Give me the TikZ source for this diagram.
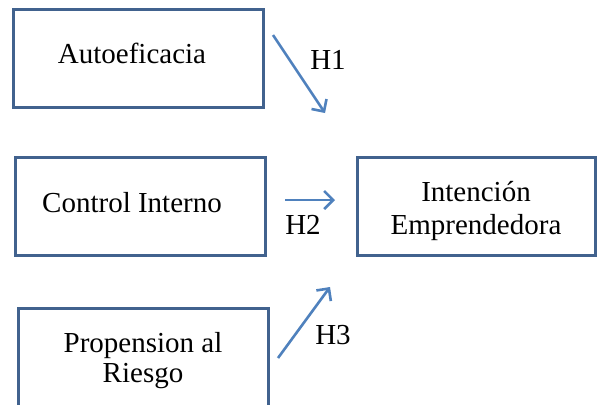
\documentclass[tikz,border=0pt]{standalone}
\usepackage{fontspec}
\setmainfont{Liberation Serif}
\usetikzlibrary{arrows.meta}
\definecolor{boxblue}{HTML}{41628E}
\definecolor{arrblue}{HTML}{4F81BD}
\tikzset{
  varbox/.style={draw=boxblue, line width=1.5pt, fill=white, minimum width=125pt, minimum height=49pt,
    inner sep=0pt, align=center, font=\fontsize{14.5pt}{16.5pt}\selectfont},
  hyparrow/.style={draw=arrblue, line width=1.3pt, -{Straight Barb[length=4.5pt,width=9pt,line width=1.3pt]}},
  hyplabel/.style={font=\fontsize{14.5pt}{16pt}\selectfont, inner sep=0pt}
}
\begin{document}
\begin{tikzpicture}[x=0.5pt,y=-0.5pt]
\useasboundingbox (0,0) rectangle (598,404);
\clip (0,0) rectangle (598,404);
\fill[white] (0,0) rectangle (598,404);
\node[varbox] (auto) at (138,58) {\hspace*{-6pt}\raisebox{5pt}{Autoeficacia}};
\node[varbox] (ctrl) at (140,206) {\hspace*{-8pt}\raisebox{4pt}{Control Interno}};
\node[varbox, minimum width=119pt] (inten) at (476,206)
  {\raisebox{-2.75pt}[\height][\depth]{\begin{tabular}{@{}c@{}}Intención\\Emprendedora\end{tabular}}};
\node[varbox, font=\fontsize{14.5pt}{15pt}\selectfont] (prop) at (143,357)
  {\raisebox{-2pt}[\height][\depth]{\begin{tabular}{@{}c@{}}Propension al\\Riesgo\end{tabular}}};
\coordinate (h1s) at (273,35);
\coordinate (h1e) at (325,113);
\coordinate (h2s) at (285,200);
\coordinate (h2e) at (335,200);
\coordinate (h3s) at (278,358);
\coordinate (h3e) at (330,287);
\draw[hyparrow] (h1s) -- (h1e);
\draw[hyparrow] (h2s) -- (h2e);
\draw[hyparrow] (h3s) -- (h3e);
\node[hyplabel] (l1) at (328,60) {H1};
\node[hyplabel] (l2) at (303,225) {H2};
\node[hyplabel] (l3) at (333,335) {H3};
\end{tikzpicture}
\end{document}
